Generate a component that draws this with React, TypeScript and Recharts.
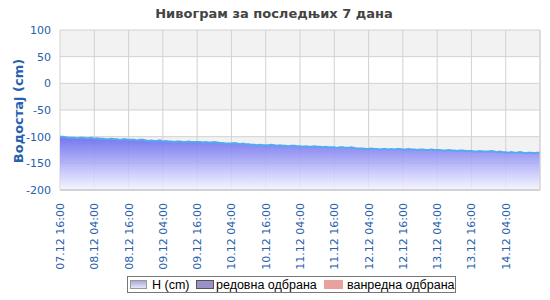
import React from "react";
import {
    AreaChart,
    Area,
    XAxis,
    YAxis,
    CartesianGrid,
    ReferenceLine,
} from "recharts";

// water level (cm), one reading per hour from 07.12 16:00 to 14.12 16:00
const levels = [
    -100, -100, -101,
    -102, -102, -102, -103, -102, -102, -103,
    -103, -102, -104, -103, -104,
    -104, -105, -105, -104, -105, -105, -106, -105, -105, -106,
    -106, -106, -107, -106, -106,
    -107, -108, -107, -108, -108, -107, -109, -108,
    -109, -109, -110, -109, -109, -110, -110, -109, -110, -110,
    -110, -110, -111, -110, -111, -111, -110, -111, -112,
    -112, -113, -113, -113, -112, -113, -114, -113, -114, -114,
    -115, -115, -116, -115, -116, -116, -116, -115, -116, -117, -116,
    -117, -117, -118, -117, -117, -118, -118,
    -119, -118, -119, -119, -118, -119, -119, -120, -119, -120,
    -120, -120, -121, -120, -120, -121, -121, -120, -121, -122, -122,
    -122, -123, -123, -122, -123, -123, -124, -123, -123, -124,
    -123, -124, -123, -123, -124, -124, -123,
    -124, -124, -125, -124, -124, -125, -125, -124, -125, -125, -125,
    -126, -126, -125, -126, -126, -127, -126, -126, -127, -127,
    -127, -128, -128, -127, -128, -128, -128, -127, -128, -129, -128,
    -129, -129, -130, -129, -130, -130, -129, -130, -131, -130, -130, -131, -130, -130,
];

const tickHours = [0, 12, 24, 36, 48, 60, 72, 84, 96, 108, 120, 132, 144, 156];
const tickLabels = [
    "07.12 16:00", "08.12 04:00", "08.12 16:00", "09.12 04:00", "09.12 16:00",
    "10.12 04:00", "10.12 16:00", "11.12 04:00", "11.12 16:00", "12.12 04:00",
    "12.12 16:00", "13.12 04:00", "13.12 16:00", "14.12 04:00",
];
const yTicks = [-200, -150, -100, -50, 0, 50, 100];

const title = "Нивограм за последњих 7 дана";
const yTitle = "Водостај (cm)";
const legendNames = ["H (cm)", "редовна одбрана", "ванредна одбрана"];

const data = levels.map((h, i) => ({ hour: i, h }));

const BLUE = "#2760ad";
const FONT = "'DejaVu Sans', Verdana, sans-serif";

function XTick({ x, y, payload }: any) {
    const idx = tickHours.indexOf(payload.value);
    return (
        <text
            x={x}
            y={y + 5}
            dy={4}
            transform={`rotate(-90 ${x} ${y + 5})`}
            textAnchor="end"
            fill={BLUE}
            fontSize={11}
            fontFamily={FONT}
        >
            {tickLabels[idx]}
        </text>
    );
}

// legend swatch looks and spacing
const legendStyles = [
    { background: "linear-gradient(#a9a9dc, #e6e6f6)", border: "1px solid #999", w: 17, gap: 5, textW: 38, after: 6 },
    { background: "#9a92c6", border: "1px solid #555", w: 18, gap: 2, textW: 103, after: 5 },
    { background: "#e9a19e", border: "1px solid #e9a19e", w: 19, gap: 4, textW: 106, after: 0 },
];

export default function App() {
    return (
        <div style={{ position: "absolute", left: 0, top: 0, width: 550, height: 300, background: "#fff" }}>
            <div
                style={{
                    position: "absolute", left: 0, top: 5, width: 548, textAlign: "center",
                    fontFamily: FONT, fontWeight: "bold", fontSize: 13, color: "#444", lineHeight: "18px",
                }}
            >
                {title}
            </div>
            <div
                style={{
                    position: "absolute", left: 18, top: 111, whiteSpace: "nowrap",
                    transform: "translate(-50%, -50%) rotate(-90deg)",
                    fontFamily: FONT, fontWeight: "bold", fontSize: 13, color: BLUE,
                }}
            >
                {yTitle}
            </div>
            <AreaChart
                width={550}
                height={300}
                data={data}
                margin={{ top: 30, right: 10, left: 0, bottom: 0 }}
            >
                <defs>
                    <linearGradient id="hFill" x1="0" y1="0" x2="0" y2="1">
                        <stop offset="0%" stopColor="#5f5ff0" stopOpacity={0.85} />
                        <stop offset="100%" stopColor="#f4f4ff" stopOpacity={0.85} />
                    </linearGradient>
                </defs>
                <CartesianGrid
                    stroke="#d2d2d2"
                    horizontalFill={["#f2f2f2", "#ffffff"]}
                />
                <XAxis
                    dataKey="hour"
                    type="number"
                    domain={[0, 168]}
                    ticks={tickHours}
                    interval={0}
                    height={110}
                    tick={<XTick />}
                    tickLine={false}
                    axisLine={{ stroke: "#d2d2d2", strokeWidth: 2 }}
                />
                <YAxis
                    domain={[-200, 100]}
                    ticks={yTicks}
                    width={60}
                    interval={0}
                    tickLine={false}
                    axisLine={false}
                    tickMargin={3}
                    tick={{ fill: BLUE, fontSize: 11, fontFamily: FONT }}
                />
                <Area
                    dataKey="h"
                    type="linear"
                    baseValue="dataMin"
                    stroke="#55a9f0"
                    strokeWidth={2}
                    fill="url(#hFill)"
                    fillOpacity={1}
                    dot={false}
                    activeDot={false}
                    isAnimationActive={false}
                />
                <ReferenceLine x={168} stroke="#d2d2d2" />
            </AreaChart>
            <div
                style={{
                    position: "absolute", left: 127, top: 276, width: 329, height: 17,
                    border: "1px solid #777", display: "flex", alignItems: "center",
                    fontFamily: "'Liberation Sans', Arial, sans-serif", fontSize: 12.5, color: "#000",
                    boxSizing: "border-box", paddingLeft: 2, whiteSpace: "nowrap",
                }}
            >
                {legendNames.map((name, i) => {
                    const s = legendStyles[i];
                    return (
                        <span key={name} style={{ display: "flex", alignItems: "center", marginRight: s.after }}>
                            <span
                                style={{
                                    display: "inline-block", width: s.w, height: 9, boxSizing: "border-box",
                                    marginRight: s.gap, background: s.background, border: s.border,
                                }}
                            />
                            <span style={{ display: "inline-block", width: s.textW }}>{name}</span>
                        </span>
                    );
                })}
            </div>
        </div>
    );
}
